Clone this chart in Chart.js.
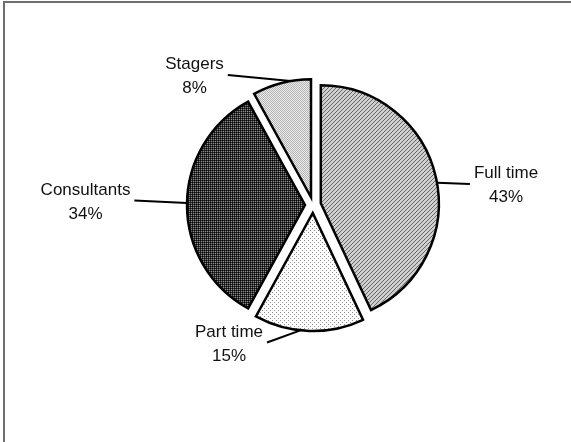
<!DOCTYPE html>
<html>
<head>
<meta charset="utf-8">
<script src="https://cdn.jsdelivr.net/npm/chart.js@4/dist/chart.umd.min.js"></script>
<style>
  html, body { margin: 0; padding: 0; background: #fff; }
</style>
</head>
<body>
<canvas id="pie" width="571" height="442"></canvas>
<script>
// --------------------------------
// || Data
// --------------------------------

const categories = ['Full time', 'Part time', 'Consultants', 'Stagers'];
const shares = [43, 15, 34, 8];

// --------------------------------
// || Layout
// --------------------------------

const pieRadius = 118;
const explode = 8;
// text block centre, measured from the pie centre
const labelSpots = [[193, -21], [-84, 137.5], [-227.5, -4.5], [-118.5, -130]];
// where each leader line leaves its slice (degrees, clockwise from 12 o'clock)
const leaderAngles = [80, 186, 271, 350];
const labelFont = '17px "Liberation Sans", Arial, sans-serif';

// --------------------------------
// || Texture fills
// --------------------------------

function tile(size, paint) {
    const c = document.createElement('canvas');
    c.width = size;
    c.height = size;
    const g = c.getContext('2d');
    paint(g);
    return g.createPattern(c, 'repeat');
}

function dot(g, x, y, color) {
    g.fillStyle = color;
    g.fillRect(x, y, 1, 1);
}

// fine upward diagonal hatch
const hatchFill = tile(4, g => {
    g.fillStyle = '#cfcfcf';
    g.fillRect(0, 0, 4, 4);
    for (let i = 0; i < 4; i++) dot(g, 3 - i, i, '#666666');
});

// sparse dots on white
const sparseFill = tile(4, g => {
    g.fillStyle = '#ffffff';
    g.fillRect(0, 0, 4, 4);
    dot(g, 0, 0, '#8c8c8c');
    dot(g, 2, 2, '#8c8c8c');
});

// dark grid
const darkFill = tile(2, g => {
    dot(g, 0, 0, '#050505');
    dot(g, 1, 0, '#303030');
    dot(g, 0, 1, '#303030');
    dot(g, 1, 1, '#8a8a8a');
});

// light checker
const lightFill = tile(2, g => {
    dot(g, 0, 0, '#b4b4b4');
    dot(g, 1, 1, '#b4b4b4');
    dot(g, 1, 0, '#ececec');
    dot(g, 0, 1, '#ececec');
});

const fills = [hatchFill, sparseFill, darkFill, lightFill];

// --------------------------------
// || Plugins
// --------------------------------

// grey frame on the top and left edge
const frame = {
    id: 'frame',
    beforeDraw(chart) {
        const { ctx, width, height } = chart;
        ctx.save();
        ctx.fillStyle = '#ffffff';
        ctx.fillRect(0, 0, width, height);
        ctx.fillStyle = '#6e6e6e';
        ctx.fillRect(3, 1, width - 3, 2);
        ctx.fillRect(3, 1, 2, height - 1);
        ctx.restore();
    }
};

// pull every slice out along its middle angle
const explodeSlices = {
    id: 'explodeSlices',
    afterDatasetsUpdate(chart) {
        chart.getDatasetMeta(0).data.forEach(arc => {
            const mid = (arc.startAngle + arc.endAngle) / 2;
            arc.x += Math.cos(mid) * explode;
            arc.y += Math.sin(mid) * explode;
        });
    }
};

// two line labels with leader lines
const callouts = {
    id: 'callouts',
    afterDatasetsDraw(chart) {
        const ctx = chart.ctx;
        const area = chart.chartArea;
        const cx = (area.left + area.right) / 2;
        const cy = (area.top + area.bottom) / 2;

        ctx.save();
        ctx.font = labelFont;
        ctx.fillStyle = '#111111';
        ctx.strokeStyle = '#000000';
        ctx.lineWidth = 2;
        ctx.textAlign = 'center';
        ctx.textBaseline = 'alphabetic';

        chart.getDatasetMeta(0).data.forEach((arc, i) => {
            const lines = [categories[i], shares[i] + '%'];
            const tx = cx + labelSpots[i][0];
            const ty = cy + labelSpots[i][1];
            const half = Math.max(...lines.map(t => ctx.measureText(t).width)) / 2;

            const a = leaderAngles[i] * Math.PI / 180;
            const sx = arc.x + Math.sin(a) * arc.outerRadius;
            const sy = arc.y - Math.cos(a) * arc.outerRadius;
            const ex = tx > sx ? tx - half - 4 : tx + half + 4;

            ctx.beginPath();
            ctx.moveTo(sx, sy);
            ctx.lineTo(ex, ty);
            ctx.stroke();

            ctx.fillText(lines[0], tx, ty - 6);
            ctx.fillText(lines[1], tx, ty + 18);
        });
        ctx.restore();
    }
};

// --------------------------------
// || Chart
// --------------------------------

new Chart(document.getElementById('pie'), {
    type: 'pie',
    data: {
        labels: categories,
        datasets: [{
            data: shares,
            backgroundColor: fills,
            borderColor: '#000000',
            borderWidth: 2.5,
            borderJoinStyle: 'miter'
        }]
    },
    options: {
        responsive: false,
        animation: false,
        radius: pieRadius,
        layout: {
            padding: { left: 55, right: 0, top: 0, bottom: 32 }
        },
        plugins: {
            legend: { display: false },
            tooltip: { enabled: false }
        }
    },
    plugins: [frame, explodeSlices, callouts]
});
</script>
</body>
</html>
